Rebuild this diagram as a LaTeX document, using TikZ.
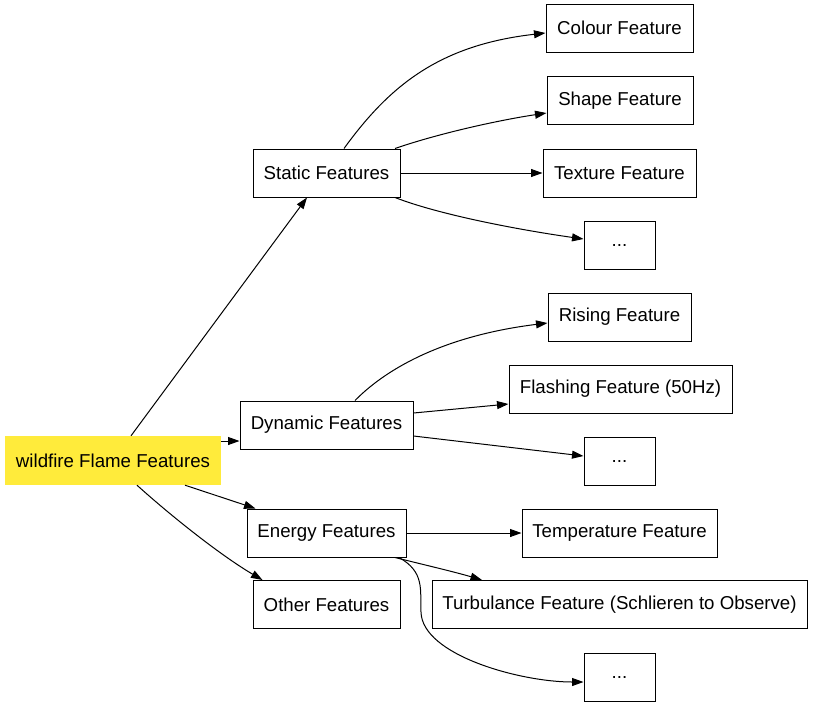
\documentclass[tikz,border=0pt]{standalone}
\usepackage{fontspec}
\setmainfont{Liberation Sans}
\usetikzlibrary{arrows.meta,calc}
\definecolor{rootyellow}{HTML}{FFEB3B}
\begin{document}
\begin{tikzpicture}[x=1pt,y=-1pt,
  box/.style={draw,line width=1pt,inner sep=0pt,minimum height=48pt,font=\fontsize{18.67}{22}\selectfont},
  rootbox/.style={fill=rootyellow,inner sep=0pt,minimum height=49pt,font=\fontsize{18.67}{22}\selectfont},
  edge/.style={line width=1pt,-{Triangle[length=11.5pt,width=8pt]}}]
\useasboundingbox (0,0) rectangle (813,707);
\node[rootbox,minimum width=216pt] (root) at (113,460.5) {wildfire Flame Features};
\node[box,minimum width=147pt] (st) at (326.5,173) {Static Features};
\node[box,minimum width=173pt] (dy) at (326.5,425) {Dynamic Features};
\node[box,minimum width=159pt] (en) at (326.5,533) {Energy Features};
\node[box,minimum width=147pt] (ot) at (326.5,604.5) {Other Features};
\node[box,minimum width=147pt] (co) at (619.5,28) {Colour Feature};
\node[box,minimum width=146pt] (sh) at (620,100.5) {Shape Feature};
\node[box,minimum width=153pt] (te) at (619.5,173) {Texture Feature};
\node[box,minimum width=71pt] (d1) at (619.5,245) {...};
\node[box,minimum width=143pt] (ri) at (619.5,317) {Rising Feature};
\node[box,minimum width=223pt] (fl) at (620.5,389) {Flashing Feature (50Hz)};
\node[box,minimum width=71pt] (d2) at (619.5,461) {...};
\node[box,minimum width=195pt] (tm) at (619.5,533) {Temperature Feature};
\node[box,minimum width=375pt] (tu) at (619.5,604.5) {Turbulance Feature (Schlieren to Observe)};
\node[box,minimum width=71pt] (d3) at (619.5,677) {...};
% root edges
\draw[edge] ($(root.north)+(18,0)$) -- ($(st.south)+(-19.5,0)$);
\draw[edge] ($(root.east)+(0,-19.5)$) -- ($(dy.west)+(0,16)$);
\draw[edge] ($(root.south)+(72,0)$) -- ($(en.north west)+(9,0)$);
\draw[edge] ($(root.south)+(24,0)$) .. controls (170,515) and (220,555) .. ($(ot.north west)+(10,0)$);
% static edges
\draw[edge] ($(st.north)+(17.5,0)$) .. controls (390,85) and (440,45) .. ($(co.west)+(0,5)$);
\draw[edge] ($(st.north)+(68.5,0)$) .. controls (440,133) and (500,120) .. ($(sh.west)+(0,12.5)$);
\draw[edge] (st.east) -- (te.west);
\draw[edge] ($(st.south)+(68.5,0)$) .. controls (440,215) and (520,230) .. ($(d1.west)+(0,-6)$);
% dynamic edges
\draw[edge] ($(dy.north)+(28.5,0)$) .. controls (390,365) and (450,335) .. ($(ri.west)+(0,6)$);
\draw[edge] ($(dy.east)+(0,-12)$) -- ($(fl.west)+(0,15)$);
\draw[edge] ($(dy.east)+(0,11)$) -- ($(d2.west)+(0,-5)$);
% energy edges
\draw[edge] (en.east) -- (tm.west);
\draw[edge] ($(en.south)+(68.5,0)$) .. controls (425,565) and (455,572) .. ($(tu.north)+(-137.5,0)$);
\draw[edge] ($(en.south)+(72.5,0)$) .. controls (425,572) and (420,590) .. (421,612) .. controls (422,655) and (520,682) .. ($(d3.west)+(0,5)$);
\end{tikzpicture}
\end{document}
